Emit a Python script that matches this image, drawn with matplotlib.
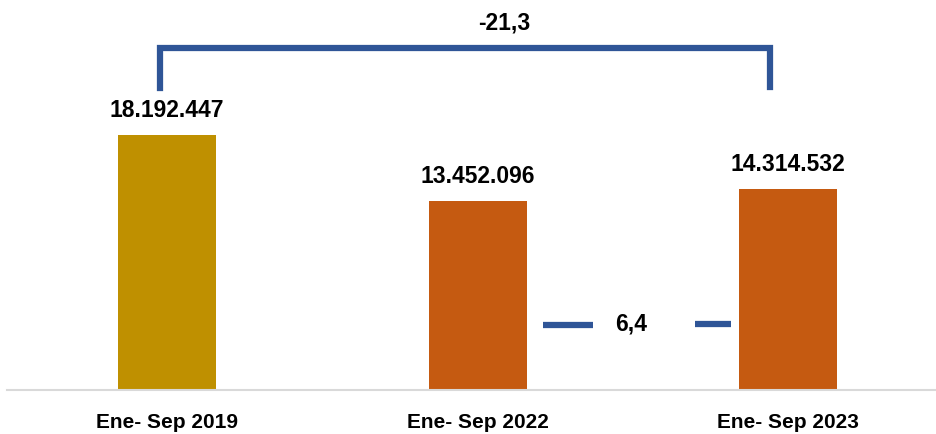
import matplotlib
matplotlib.use("Agg")
import matplotlib.pyplot as plt

categories = ["Ene- Sep 2019", "Ene- Sep 2022", "Ene- Sep 2023"]
values = [18192447, 13452096, 14314532]
value_labels = ["18.192.447", "13.452.096", "14.314.532"]
bar_colors = ["#BF9000", "#C55A11", "#C55A11"]
change_total = "-21,3"
change_recent = "6,4"

plt.rcParams['font.family'] = ["Liberation Sans", "DejaVu Sans"]

fig = plt.figure(figsize=(9.36, 4.35), dpi=100)
ax = fig.add_axes([0.0075, 44/435, 1 - 0.0075, 390/435])
x = list(range(len(categories)))
ax.bar(x, values, width=0.315, color=bar_colors)
ax.set_xlim(-0.514, 2.475)
ax.set_ylim(0, 27.8e6)

for xi, v, lab in zip(x, values, value_labels):
    ax.annotate(lab, (xi, v), xytext=(0, 18.5), textcoords="offset points",
                ha="center", va="center", fontsize=16.5, fontweight="bold")

for s in ["top", "right", "left"]:
    ax.spines[s].set_visible(False)
ax.spines["bottom"].set_color("#D9D9D9")
ax.spines["bottom"].set_linewidth(1.5)
ax.set_yticks([])
ax.set_xticks(x)
ax.set_xticklabels(categories, fontsize=15, fontweight="bold")
ax.tick_params(axis="x", length=0, pad=15.5)

blue = "#2F5597"
# bracket between first and last bar
ax.plot([x[0] - 0.022, x[0] - 0.022, x[2] - 0.058, x[2] - 0.058],
        [21.55e6, 24.35e6, 24.35e6, 21.6e6], color=blue, lw=4.5,
        solid_joinstyle="miter", clip_on=False)
ax.text(1.087, 26.2e6, change_total, ha="center", va="center",
        fontsize=16.5, fontweight="bold")

# small dashes between last two bars
ax.plot([1.212, 1.370], [4.6e6, 4.6e6], color=blue, lw=4.5, solid_capstyle="butt")
ax.plot([1.701, 1.817], [4.68e6, 4.68e6], color=blue, lw=4.5, solid_capstyle="butt")
ax.text(1.495, 4.75e6, change_recent, ha="center", va="center",
        fontsize=16.5, fontweight="bold")

fig.savefig("out.png", dpi=100)
